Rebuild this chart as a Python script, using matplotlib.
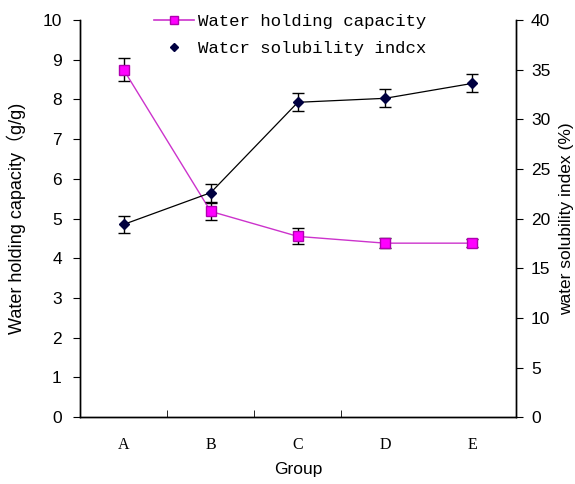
import matplotlib
matplotlib.use("Agg")
import matplotlib.pyplot as plt
from matplotlib.lines import Line2D

groups = ["A", "B", "C", "D", "E"]
whc = [8.75, 5.18, 4.55, 4.38, 4.38]
whc_err = [0.28, 0.22, 0.2, 0.12, 0.1]
wsi = [19.4, 22.6, 31.7, 32.1, 33.6]
wsi_err = [0.9, 0.9, 0.9, 0.9, 0.9]

plt.rcParams["font.family"] = ["Liberation Sans", "Noto Sans CJK SC", "DejaVu Sans"]

fig = plt.figure(figsize=(5.75, 4.84), dpi=100)
ax1 = fig.add_axes([0.139, 0.138, 0.758, 0.821])
ax2 = ax1.twinx()

x = list(range(len(groups)))
ax1.errorbar(x, whc, yerr=whc_err, color="#cc33cc", lw=1.0, marker="s", ms=7,
             mfc="#ff00ff", mec="#b000b0", ecolor="black", elinewidth=1.0,
             capsize=4, capthick=1.0, zorder=3)
ax2.errorbar(x, wsi, yerr=wsi_err, color="black", lw=0.9, marker="D", ms=5,
             mfc="#000040", mec="#000040", ecolor="black", elinewidth=1.0,
             capsize=4, capthick=1.0, zorder=3)

ax1.set_xlim(-0.5, 4.5)
ax1.set_ylim(0, 10)
ax2.set_ylim(0, 40)
ax1.set_yticks(range(0, 11))
ax2.set_yticks(range(0, 41, 5))
ax1.set_xticks(x)
ax1.set_xticklabels(groups, family=["Liberation Serif"], fontsize=11.5)
ax1.tick_params(axis="x", length=0, pad=14)
ax1.set_xticks([0.5, 1.5, 2.5], minor=True)
ax1.tick_params(axis="x", which="minor", direction="in", length=5)
ax1.tick_params(axis="y", labelsize=12.5, direction="out", length=5, pad=8)
ax2.tick_params(axis="y", labelsize=12.5, direction="out", length=5, pad=6)

for a in (ax1, ax2):
    for s in a.spines.values():
        s.set_linewidth(1.0)
ax1.spines["top"].set_visible(False)
ax2.spines["top"].set_visible(False)

ax1.set_xlabel("Group", fontsize=12.5, labelpad=7)
ax1.set_ylabel("Water holding capacity\uff08g/g)", fontsize=13, labelpad=12)
ax2.set_ylabel("water solubility index (%)", fontsize=12.5, labelpad=6)

handles = [
    Line2D([], [], color="#cc33cc", lw=1.2, marker="s", ms=6, mfc="#ff00ff", mec="#b000b0"),
    Line2D([], [], color="none", marker="D", ms=4.5, mfc="#000040", mec="#000040"),
]
fig.legend(handles, ["Water holding capacity", "Watcr solubility indcx"],
           loc="upper left", bbox_to_anchor=(0.268, 0.972), frameon=False,
           prop={"family": "Liberation Mono", "size": 12.5}, handlelength=2.3,
           handletextpad=0.2, labelspacing=0.7, borderpad=0, borderaxespad=0)

fig.savefig("out.png", dpi=100)
